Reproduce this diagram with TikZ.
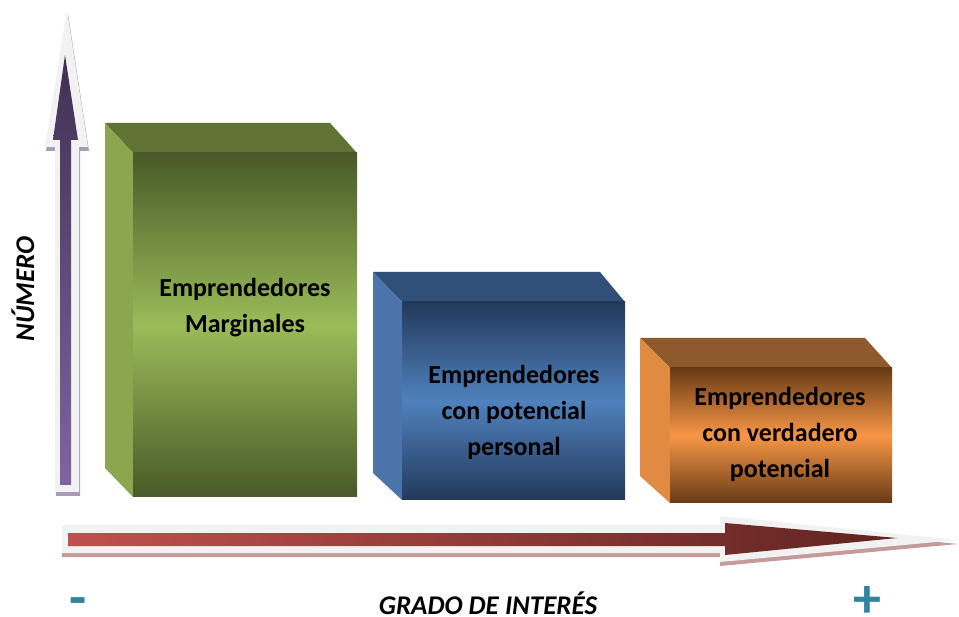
\documentclass[tikz,border=0pt]{standalone}
\usepackage{fontspec}
\setmainfont{Carlito}
\usetikzlibrary{positioning}

\definecolor{greentop}{HTML}{5F7434}
\definecolor{greenside}{HTML}{8AA64F}
\definecolor{greendark}{HTML}{485A28}
\definecolor{greenlight}{HTML}{9BBB59}
\definecolor{bluetop}{HTML}{30507A}
\definecolor{blueside}{HTML}{4A74AA}
\definecolor{bluedark}{HTML}{23395A}
\definecolor{bluelight}{HTML}{4F81BD}
\definecolor{orangetop}{HTML}{8E5A2B}
\definecolor{orangeside}{HTML}{E08A42}
\definecolor{orangedark}{HTML}{673B16}
\definecolor{orangelight}{HTML}{F79646}
\definecolor{halogray}{HTML}{F2F2F2}
\definecolor{purpledark}{HTML}{3F3152}
\definecolor{purplelight}{HTML}{8064A2}
\definecolor{purpleshadow}{HTML}{A89CB8}
\definecolor{reddark}{HTML}{5F2421}
\definecolor{redlight}{HTML}{C0504D}
\definecolor{redshadow}{HTML}{C49A9A}
\definecolor{signteal}{HTML}{31849B}

\tikzstyle{boxtext} = [align=center, text=black, font=\bfseries\fontsize{26}{36}\selectfont]
\tikzstyle{axistext} = [text=black, inner sep=0pt, font=\bfseries\itshape\fontsize{27}{30}\selectfont]
\tikzstyle{sign} = [text=signteal, inner sep=0pt, text depth=0pt, anchor=base, font=\bfseries\fontsize{56}{60}\selectfont]
\tikzstyle{halo} = [fill=halogray]

\begin{document}
\begin{tikzpicture}[x=1pt,y=-1pt]
\useasboundingbox (0,0) rectangle (959,617);

% vertical axis
\fill[purpleshadow, shift={(1,4)}] (55,492) -- (55,147) -- (45,147) -- (67,10) -- (88,147) -- (79,147) -- (79,492) -- cycle;
\fill[halo] (55,492) -- (55,147) -- (45,147) -- (67,10) -- (88,147) -- (79,147) -- (79,492) -- cycle;
\shade[top color=purpledark, bottom color=purplelight] (60,485) -- (60,140) -- (53,140) -- (65,55) -- (78,140) -- (71,140) -- (71,485) -- cycle;

% horizontal axis
\fill[redshadow, shift={(0,4)}] (62,525) -- (720,525) -- (720,516) -- (958,540) -- (720,562) -- (720,553) -- (62,553) -- cycle;
\fill[halo] (62,525) -- (720,525) -- (720,516) -- (958,540) -- (720,562) -- (720,553) -- (62,553) -- cycle;
\shade[left color=redlight, right color=reddark] (68,533) -- (725,533) -- (725,523) -- (897,538) -- (725,555) -- (725,546) -- (68,546) -- cycle;

% green box
\fill[greentop] (105,123) -- (330,123) -- (357,153) -- (133,153) -- cycle;
\fill[greenside] (105,123) -- (133,153) -- (133,497) -- (105,468) -- cycle;
\shade[top color=greendark, bottom color=greendark, middle color=greenlight] (133,153) rectangle (357,497);

% blue box
\fill[bluetop] (373,272) -- (600,272) -- (625,302) -- (402,302) -- cycle;
\fill[blueside] (373,272) -- (402,302) -- (402,500) -- (373,473) -- cycle;
\shade[top color=bluedark, bottom color=bluedark, middle color=bluelight] (402,302) rectangle (625,500);

% orange box
\fill[orangetop] (640,338) -- (865,338) -- (892,368) -- (670,368) -- cycle;
\fill[orangeside] (640,338) -- (670,368) -- (670,503) -- (640,476) -- cycle;
\shade[top color=orangedark, bottom color=orangedark, middle color=orangelight] (670,368) rectangle (892,503);

\node (marginales) [boxtext] at (245,308) {Emprendedores\\Marginales};
\node (personal) [boxtext] at (514,412) {Emprendedores\\con potencial\\personal};
\node (verdadero) [boxtext] at (780,434) {Emprendedores\\con verdadero\\potencial};

\node (numero) [axistext, rotate=90] at (23,289) {NÚMERO};
\node (interes) [axistext, text depth=0pt, anchor=base] at (488,614) {GRADO DE INTERÉS};
\node (menos) [sign] at (78,616) {-};
\node (mas) [sign] at (867,617) {+};

\end{tikzpicture}
\end{document}
